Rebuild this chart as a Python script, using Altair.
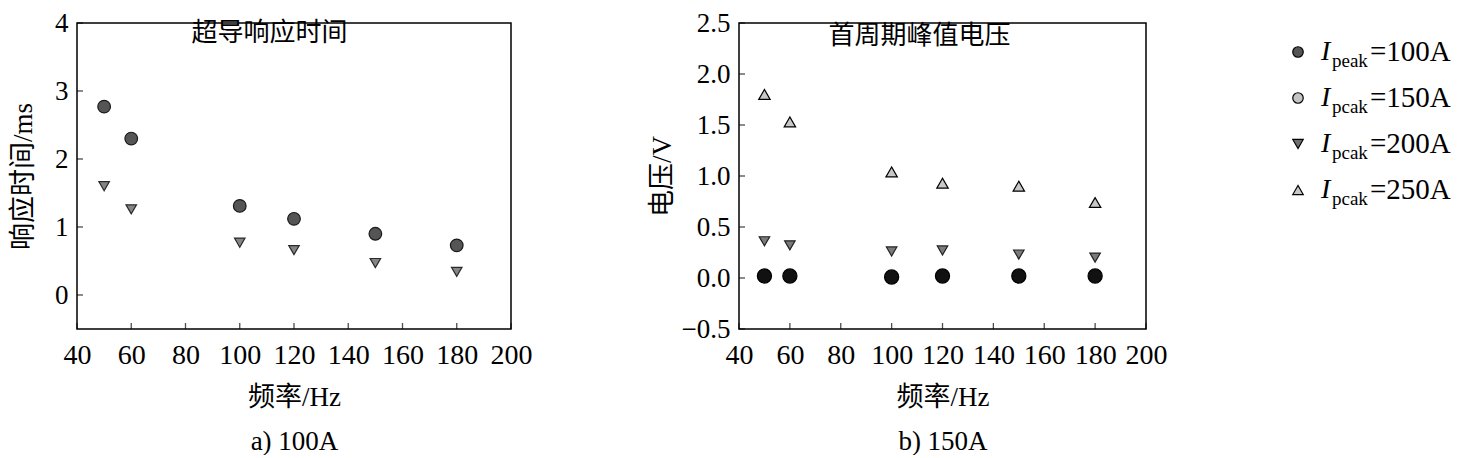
import altair as alt
import pandas as pd

SERIF = "Liberation Serif, Noto Sans CJK SC"

# ---- data ----
freq = [50, 60, 100, 120, 150, 180]
a_circle = [2.77, 2.30, 1.31, 1.12, 0.90, 0.73]
a_tri_down = [1.60, 1.26, 0.77, 0.66, 0.47, 0.34]
b_circle = [0.02, 0.02, 0.01, 0.02, 0.02, 0.02]
b_tri_down = [0.36, 0.32, 0.26, 0.27, 0.23, 0.20]
b_tri_up = [1.80, 1.53, 1.04, 0.93, 0.90, 0.74]

x_ticks = [40, 60, 80, 100, 120, 140, 160, 180, 200]
a_y_ticks = [0, 1, 2, 3, 4]
b_y_ticks = [-0.5, 0.0, 0.5, 1.0, 1.5, 2.0, 2.5]

a_title = "超导响应时间"
b_title = "首周期峰值电压"
x_title = "频率/Hz"
a_ytitle = "响应时间/ms"
b_ytitle = "电压/V"
a_caption = "a) 100A"
b_caption = "b) 150A"

legend_keys = ["100A", "150A", "200A", "250A"]
legend_sub = ["peak", "pcak", "pcak", "pcak"]
legend_rest = ["=100A", "=150A", "=200A", "=250A"]
legend_row = [0, 1, 2, 3]

X_DOM = [40, 200]
A_DOM = [-0.5, 4]
B_DOM = [-0.5, 2.5]
H = 306


def panel(series, ydom, yticks, yfmt, ytitle, caption, title_text, title_xy, width, ytp):
    xs = alt.Scale(domain=X_DOM, nice=False, zero=False)
    ys = alt.Scale(domain=ydom, nice=False, zero=False)
    xaxis = alt.Axis(values=x_ticks, format="d", labelFontSize=28, labelPadding=12,
                     labelFlush=False, labelOverlap=False, grid=False, ticks=False, domain=False,
                     title=[x_title, caption], titleFontSize=27, titleLineHeight=44,
                     titlePadding=15, titleFontWeight="normal")
    yaxis = alt.Axis(values=yticks, format=yfmt, labelFontSize=27, labelPadding=9,
                     labelFlush=False, labelOverlap=False, grid=False, ticks=False, domain=False,
                     title=ytitle, titleFontSize=27, titlePadding=ytp, titleFontWeight="normal")
    layers = []
    first = True
    for vals, shape, fill, stroke, size in series:
        df = pd.DataFrame({"f": freq, "v": vals})
        m = alt.Chart(df).mark_point(shape=shape, filled=True, fill=fill, stroke=stroke,
                                     strokeWidth=1.2, size=size, opacity=1)
        if first:
            m = m.encode(x=alt.X("f:Q", scale=xs, axis=xaxis),
                         y=alt.Y("v:Q", scale=ys, axis=yaxis))
            first = False
        else:
            m = m.encode(x=alt.X("f:Q", scale=xs), y=alt.Y("v:Q", scale=ys))
        layers.append(m)
    xt = alt.Chart(pd.DataFrame({"t": x_ticks})).mark_tick(
        orient="vertical", size=6, thickness=1.3, color="black", yOffset=-3
    ).encode(x=alt.X("t:Q", scale=xs), y=alt.datum(ydom[0]))
    yt = alt.Chart(pd.DataFrame({"t": yticks})).mark_tick(
        orient="horizontal", size=6, thickness=1.3, color="black", xOffset=3
    ).encode(y=alt.Y("t:Q", scale=ys), x=alt.datum(X_DOM[0]))
    tt = alt.Chart(pd.DataFrame({"x": [title_xy[0]], "y": [title_xy[1]], "t": [title_text]})).mark_text(
        font=SERIF, fontSize=26, color="black", baseline="middle", align="center"
    ).encode(x=alt.X("x:Q", scale=xs), y=alt.Y("y:Q", scale=ys), text="t:N")
    return alt.layer(*layers, xt, yt, tt).properties(width=width, height=H)


left = panel(
    [(a_circle, "circle", "#555555", "#1a1a1a", 160),
     (a_tri_down, "triangle-down", "#858585", "#2a2a2a", 110)],
    A_DOM, a_y_ticks, "d", a_ytitle, a_caption, a_title, (111, 3.85), 434, 17)

right = panel(
    [(b_tri_up, "triangle-up", "#c8c8c8", "#000000", 130),
     (b_tri_down, "triangle-down", "#7a7a7a", "#222222", 110),
     (b_circle, "circle", "#111111", "#000000", 200)],
    B_DOM, b_y_ticks, ".1f", b_ytitle, b_caption, b_title, (111, 2.37), 407, 5)

leg_df = pd.DataFrame({"row": legend_row, "key": legend_keys,
                       "sub": legend_sub, "rest": legend_rest})
ly = alt.Y("row:Q", scale=alt.Scale(domain=[0, 3], range=[29, 167]), axis=None)
leg_sym = alt.Chart(leg_df).mark_point(filled=True, stroke="black", strokeWidth=1.2,
                                       size=110, opacity=1).encode(
    x=alt.value(15), y=ly,
    shape=alt.Shape("key:N", scale=alt.Scale(domain=legend_keys,
                    range=["circle", "circle", "triangle-down", "triangle-up"]), legend=None),
    fill=alt.Fill("key:N", scale=alt.Scale(domain=legend_keys,
                  range=["#555555", "#c4c4c4", "#6e6e6e", "#c8c8c8"]), legend=None),
)
leg_I = alt.Chart(leg_df).mark_text(font=SERIF, fontSize=28, fontStyle="italic", align="left",
                                    baseline="middle", color="black").encode(
    x=alt.value(38), y=ly, text=alt.value("I"))
leg_sub = alt.Chart(leg_df).mark_text(font=SERIF, fontSize=19, align="left",
                                      baseline="middle", color="black", dy=9).encode(
    x=alt.value(49), y=ly, text="sub:N")
leg_rest = alt.Chart(leg_df).mark_text(font=SERIF, fontSize=29, align="left",
                                       baseline="middle", color="black").encode(
    x=alt.value(87), y=ly, text="rest:N")
legend = alt.layer(leg_sym, leg_I, leg_sub, leg_rest).properties(
    width=165, height=H, view=alt.ViewBackground(stroke="transparent"))

chart = alt.hconcat(left, right, legend, spacing=114).properties(
    padding={"left": 0, "top": 0, "right": 0, "bottom": 0}, background="white"
).configure_view(stroke="black", strokeWidth=1.5).configure_axis(
    grid=False, domain=False, ticks=False, labelFont=SERIF, titleFont=SERIF,
    labelColor="black", titleColor="black", titleFontWeight="normal"
)

chart.save("out.html", embed_options={"renderer": "svg", "actions": False})
